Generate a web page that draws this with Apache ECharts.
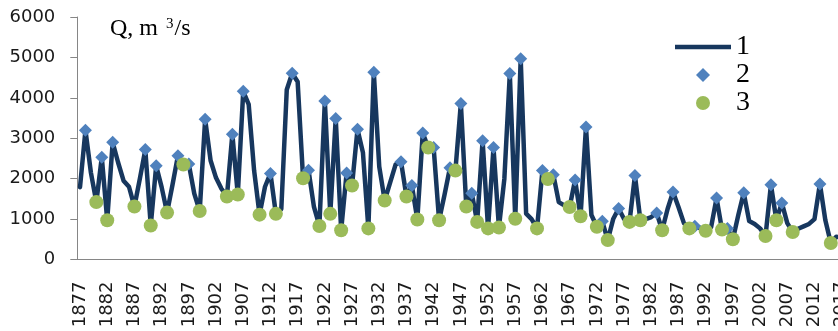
<!DOCTYPE html>
<html>
<head>
<meta charset="utf-8">
<script src="https://cdn.jsdelivr.net/npm/echarts@6/dist/echarts.min.js"></script>
<style>
html, body { margin: 0; padding: 0; background: #fff; }
#chart { width: 838px; height: 331px; }
</style>
</head>
<body>
<div id="chart"></div>
<script>
// years on the category axis, 1877 .. 2017
var years = [];
for (var yr = 1877; yr <= 2017; yr++) years.push(String(yr));

// 1 - annual discharge, m3/s
var flow = [
    1790, 3200, 2150, 1420, 2530, 970, 2900, 2400, 1950, 1800,   // 1877-1886
    1310, 2000, 2720, 840, 2320, 1790, 1160, 1850, 2570, 2350,   // 1887-1896
    2360, 1630, 1200, 3470, 2450, 2020, 1750, 1560, 3100, 1610,  // 1897-1906
    4160, 3840, 2200, 1110, 1800, 2130, 1130, 1250, 4200, 4610,  // 1907-1916
    4400, 2010, 2210, 1300, 830, 3920, 1130, 3490, 725, 2140,    // 1917-1926
    1830, 3220, 2650, 770, 4630, 2300, 1460, 1900, 2350, 2420,   // 1927-1936
    1560, 1830, 990, 3130, 2770, 2770, 970, 1600, 2270, 2200,    // 1937-1946
    3860, 1310, 1640, 930, 2940, 770, 2770, 790, 2000, 4600,     // 1947-1956
    1010, 4970, 1135, 1000, 770, 2200, 1990, 2100, 1420, 1340,   // 1957-1966
    1300, 1970, 1070, 3280, 1100, 810, 945, 480, 1000, 1260,     // 1967-1976
    1000, 930, 2080, 970, 1000, 1050, 1150, 725, 1250, 1670,     // 1977-1986
    1300, 900, 770, 820, 780, 710, 800, 1520, 740, 770,          // 1987-1996
    500, 1100, 1650, 950, 880, 770, 580, 1850, 970, 1400,        // 1997-2006
    900, 680, 760, 820, 880, 1000, 1870, 970, 410, 560,          // 2007-2016
    550                                                          // 2017
];

// 2 - high-water years
var highYears  = [1878, 1881, 1883, 1889, 1891, 1895, 1897, 1900, 1905, 1907, 1912, 1916, 1919, 1922, 1924,
                  1926, 1928, 1931, 1936, 1938, 1940, 1942, 1945, 1947, 1949, 1951, 1953, 1956, 1958, 1962,
                  1964, 1968, 1970, 1973, 1976, 1979, 1983, 1986, 1990, 1994, 1996, 1999, 2004, 2006, 2013];
var highValues = [3200, 2530, 2900, 2720, 2320, 2570, 2360, 3470, 3100, 4160, 2130, 4610, 2210, 3920, 3490,
                  2140, 3220, 4630, 2420, 1830, 3130, 2770, 2270, 3860, 1640, 2940, 2770, 4600, 4970, 2200,
                  2100, 1970, 3280, 945, 1260, 2080, 1150, 1670, 820, 1520, 770, 1650, 1850, 1400, 1870];

// 3 - low-water years
var lowYears  = [1880, 1882, 1887, 1890, 1893, 1896, 1899, 1904, 1906, 1910, 1913, 1918, 1921, 1923, 1925,
                 1927, 1930, 1933, 1937, 1939, 1941, 1943, 1946, 1948, 1950, 1952, 1954, 1957, 1961, 1963,
                 1967, 1969, 1972, 1974, 1978, 1980, 1984, 1989, 1992, 1995, 1997, 2003, 2005, 2008, 2015];
var lowValues = [1420, 970, 1310, 840, 1160, 2350, 1200, 1560, 1610, 1110, 1130, 2010, 830, 1130, 725,
                 1830, 770, 1460, 1560, 990, 2770, 970, 2200, 1310, 930, 770, 790, 1010, 770, 1990,
                 1300, 1070, 810, 480, 930, 970, 725, 770, 710, 740, 500, 580, 970, 680, 410];

var yTicks = { min: 0, max: 6000, interval: 1000 };

var highData = highYears.map(function (y, k) { return [String(y), highValues[k]]; });
var lowData = lowYears.map(function (y, k) { return [String(y), lowValues[k]]; });

var option = {
    animation: false,
    backgroundColor: '#fff',
    title: {
        text: 'Q, m {s|3}/s',
        left: 105,
        top: 12,
        textStyle: {
            fontFamily: 'Liberation Serif',
            fontSize: 24,
            fontWeight: 'normal',
            color: '#000',
            rich: {
                s: { fontFamily: 'Liberation Serif', fontSize: 15, color: '#000', verticalAlign: 'top', padding: [0, 1, 9, 2] }
            }
        }
    },
    legend: {
        orient: 'vertical',
        left: 670,
        top: 28,
        itemWidth: 56,
        itemHeight: 14,
        itemGap: 0,
        symbolKeepAspect: true,
        data: [
            { name: '1', icon: 'path://M0,0H56V4.5H0Z' },
            { name: '2', icon: 'path://M7,0L14,7L7,14L0,7Z' },
            { name: '3', icon: 'circle' }
        ],
        textStyle: { fontFamily: 'Liberation Serif', fontSize: 28, lineHeight: 27, color: '#000' }
    },
    grid: { left: 77.3, right: -6.4, top: 17, bottom: 71.5, outerBoundsMode: 'none', containLabel: false },
    xAxis: {
        type: 'category',
        data: years,
        boundaryGap: true,
        axisLine: { lineStyle: { color: '#868686', width: 1 } },
        axisTick: { interval: 9, length: 7, lineStyle: { color: '#868686' } },
        axisLabel: {
            interval: 4,
            rotate: 90,
            margin: 22,
            fontFamily: 'DejaVu Sans',
            fontSize: 18,
            color: '#1a1a1a'
        },
        splitLine: { show: false }
    },
    yAxis: {
        type: 'value',
        min: yTicks.min,
        max: yTicks.max,
        interval: yTicks.interval,
        axisLine: { show: true, lineStyle: { color: '#868686', width: 1 } },
        axisTick: { show: true, length: 7, lineStyle: { color: '#868686' } },
        axisLabel: {
            margin: 22,
            fontFamily: 'DejaVu Sans',
            fontSize: 18,
            color: '#1a1a1a',
            formatter: function (v) { return String(v); }
        },
        splitLine: { show: false }
    },
    series: [
        {
            name: '1',
            type: 'line',
            data: flow,
            symbol: 'none',
            lineStyle: { color: '#17375E', width: 4.5, join: 'round', cap: 'round' },
            itemStyle: { color: '#17375E' },
            z: 2
        },
        {
            name: '2',
            type: 'scatter',
            data: highData,
            symbol: 'diamond',
            symbolSize: 13,
            itemStyle: { color: '#4F81BD', opacity: 1 },
            z: 3
        },
        {
            name: '3',
            type: 'scatter',
            data: lowData,
            symbol: 'circle',
            symbolSize: 14,
            itemStyle: { color: '#9BBB59', opacity: 1 },
            z: 4
        }
    ]
};

var myChart = echarts.init(document.getElementById('chart'));
myChart.setOption(option);
</script>
</body>
</html>
